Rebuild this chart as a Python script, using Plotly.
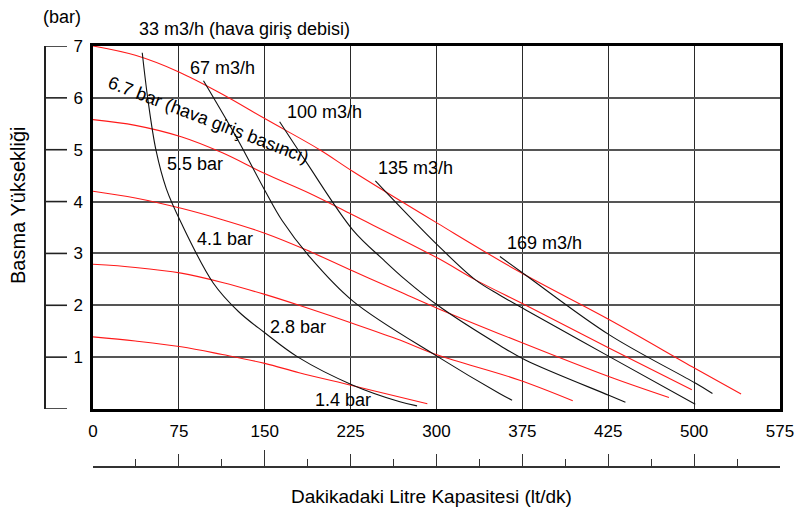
import plotly.graph_objects as go

# ---- data (flow in lt/dk, head in bar) ----
x_tickvals = [0, 75, 150, 225, 300, 375, 450, 525, 600]
x_ticktext = ["0", "75", "150", "225", "300", "375", "425", "500", "575"]
y_tickvals = [1, 2, 3, 4, 5, 6, 7]
ruler_major = [0, 150]

# air inlet pressure curves (red)
p67_x = [0, 37, 75, 113, 150, 198, 227, 301, 372, 451, 526, 566]
p67_y = [7.0, 6.82, 6.5, 6.07, 5.6, 5.0, 4.58, 3.58, 2.65, 1.72, 0.78, 0.29]
p55_x = [0, 37, 77, 113, 150, 189, 227, 301, 334, 378, 451, 523]
p55_y = [5.58, 5.47, 5.25, 4.94, 4.54, 4.16, 3.74, 2.91, 2.49, 2.0, 1.17, 0.37]
p41_x = [0, 37, 77, 113, 150, 186, 227, 268, 301, 372, 451, 503]
p41_y = [4.2, 4.07, 3.87, 3.65, 3.39, 3.07, 2.66, 2.26, 1.94, 1.30, 0.62, 0.22]
p28_x = [0, 37, 77, 113, 150, 180, 227, 268, 301, 372, 419]
p28_y = [2.79, 2.73, 2.62, 2.44, 2.21, 2.0, 1.65, 1.33, 1.04, 0.56, 0.16]
p14_x = [0, 37, 77, 113, 150, 180, 227, 292]
p14_y = [1.39, 1.31, 1.20, 1.05, 0.88, 0.70, 0.45, 0.10]

# air consumption curves (black)
q33_x = [43, 48, 55, 64, 77, 105, 127, 150, 179, 227, 268, 283]
q33_y = [6.87, 5.96, 4.99, 4.25, 3.59, 2.43, 1.88, 1.47, 1.00, 0.46, 0.14, 0.06]
q67_x = [96.5, 125, 150, 165, 189, 227, 301, 355, 366]
q67_y = [6.33, 5.25, 4.22, 3.64, 2.94, 2.08, 1.01, 0.30, 0.17]
q100_x = [163, 186, 227, 254, 273, 301, 355, 378, 451, 465]
q100_y = [5.54, 4.77, 3.45, 2.87, 2.49, 2.0, 1.23, 0.94, 0.26, 0.13]
q135_x = [246.6, 301, 334, 355, 378, 451, 526]
q135_y = [4.40, 3.16, 2.49, 2.20, 1.91, 1.01, 0.09]
q169_x = [355.4, 378, 451, 526, 541]
q169_y = [2.94, 2.58, 1.43, 0.50, 0.30]

red_series = [(p67_x, p67_y), (p55_x, p55_y), (p41_x, p41_y), (p28_x, p28_y), (p14_x, p14_y)]
black_series = [(q33_x, q33_y), (q67_x, q67_y), (q100_x, q100_y), (q135_x, q135_y), (q169_x, q169_y)]

FONT = "Liberation Sans, Arial, Helvetica, sans-serif"
LBL = 18

fig = go.Figure()
for xs, ys in red_series:
    fig.add_trace(go.Scatter(x=xs, y=ys, mode="lines",
                             line=dict(color="#ff1a1a", width=1.1, shape="spline", smoothing=1.0),
                             hoverinfo="skip", showlegend=False))
for xs, ys in black_series:
    fig.add_trace(go.Scatter(x=xs, y=ys, mode="lines",
                             line=dict(color="#111111", width=1.1, shape="spline", smoothing=1.0),
                             hoverinfo="skip", showlegend=False))

# empty traces so that the ruler axes are drawn
fig.add_trace(go.Scatter(x=[], y=[], xaxis="x2", yaxis="y2", mode="lines",
                         hoverinfo="skip", showlegend=False))
fig.add_trace(go.Scatter(x=[], y=[], xaxis="x3", yaxis="y", mode="lines",
                         hoverinfo="skip", showlegend=False))

labels = [
    ("67 m3/h", 113, 6.58, 0),
    ("100 m3/h", 202, 5.73, 0),
    ("135 m3/h", 282, 4.65, 0),
    ("169 m3/h", 394, 3.20, 0),
    ("6.7 bar (hava giriş basıncı)", 101, 5.58, 21),
    ("5.5 bar", 89, 4.72, 0),
    ("4.1 bar", 115, 3.28, 0),
    ("2.8 bar", 179, 1.58, 0),
    ("1.4 bar", 218, 0.17, 0),
]
for txt, ax_, ay_, ang in labels:
    fig.add_annotation(x=ax_, y=ay_, xref="x", yref="y", text=txt, showarrow=False,
                       textangle=ang, font=dict(size=LBL, color="black", family=FONT))

outside = [
    ("33 m3/h (hava giriş debisi)", 0.272, 1.040, 0, 18),
    ("(bar)", 0.023, 1.069, 0, 18),
    ("Basma Yüksekliği", -0.0367, 0.620, -90, 20),
    ("Dakikadaki Litre Kapasitesi (lt/dk)", 0.5265, -0.069, 0, 19),
]
for txt, px_, py_, ang, fs in outside:
    fig.add_annotation(x=px_, y=py_, xref="paper", yref="paper", text=txt, showarrow=False,
                       textangle=ang, xanchor="center", yanchor="middle",
                       font=dict(size=fs, color="black", family=FONT))

# left ruler tick marks (one per y tick value)
for v in [0] + y_tickvals:
    fig.add_shape(type="line", xref="paper", yref="y", x0=0, x1=22 / 735, y0=v, y1=v,
                  line=dict(color="#222", width=1.6), layer="above")

xdom = [(93 - 45) / 735, 1.0]
ydom = [(467 - 409) / 421, 1.0]

fig.update_layout(
    width=798, height=512,
    margin=dict(l=45, r=18, t=46, b=45, autoexpand=False),
    paper_bgcolor="white", plot_bgcolor="white",
    font=dict(family=FONT, size=16, color="black"),
    showlegend=False,
    xaxis=dict(domain=xdom, range=[0, 600], tickvals=x_tickvals, ticktext=x_ticktext,
               showgrid=True, gridcolor="#2a2a2a", gridwidth=1.3, zeroline=False,
               showline=True, mirror=True, linecolor="black", linewidth=2.5, automargin=False,
               ticks="", ticklabelstandoff=5, tickfont=dict(size=17)),
    yaxis=dict(domain=ydom, range=[0, 7], tickvals=y_tickvals,
               showgrid=True, gridcolor="#555555", gridwidth=1.8, zeroline=False,
               showline=True, mirror=True, linecolor="black", linewidth=2.5, automargin=False,
               ticks="", ticklabelstandoff=4, tickfont=dict(size=17)),
    xaxis2=dict(overlaying="x", anchor="free", position=0, side="bottom", automargin=False,
                range=[0, 600], showline=True, linecolor="#333", linewidth=1.5,
                ticks="inside", ticklen=12, tickwidth=1.3, tickcolor="#333",
                tickvals=x_tickvals, showticklabels=False, showgrid=False, zeroline=False,
                minor=dict(ticks="inside", ticklen=7, tickwidth=1.3, tickcolor="#333",
                           dtick=37.5, tick0=0, showgrid=False)),
    xaxis3=dict(overlaying="x", anchor="free", position=0, side="bottom", automargin=False,
                range=[0, 600], showline=False,
                ticks="inside", ticklen=17, tickwidth=1.3, tickcolor="#333",
                tickvals=ruler_major, showticklabels=False, showgrid=False, zeroline=False),
    yaxis2=dict(overlaying="y", anchor="free", position=0, side="left", automargin=False,
                range=[0, 7], showline=True, linecolor="#222", linewidth=1.5,
                ticks="", showticklabels=False, showgrid=False, zeroline=False),
)

fig.write_html("out.html", config={"displayModeBar": False},
               post_script="document.body.style.margin='0';document.body.style.overflow='hidden';")
